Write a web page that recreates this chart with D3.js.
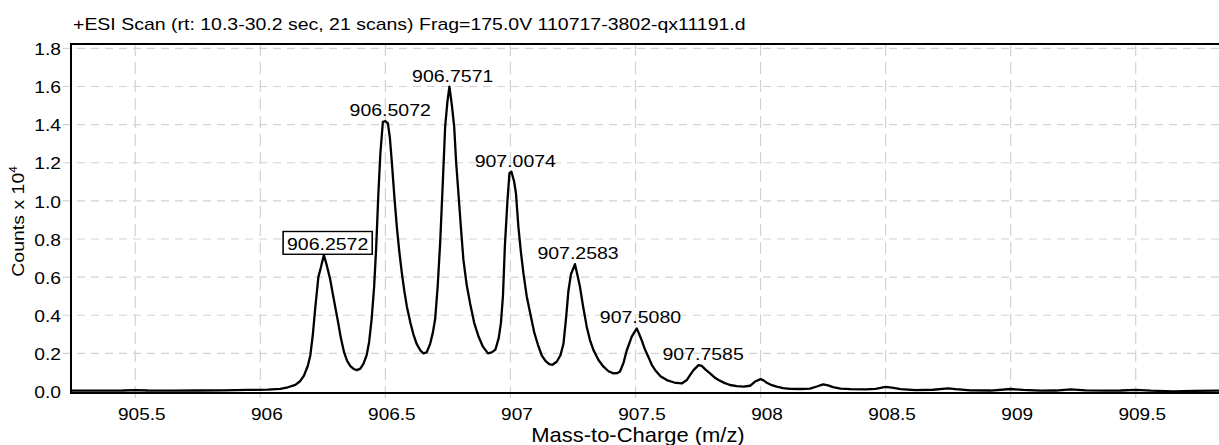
<!DOCTYPE html>
<html><head><meta charset="utf-8">
<script src="https://cdn.jsdelivr.net/npm/d3@7"></script>
<style>
html,body{margin:0;padding:0;background:#fff;}
svg{display:block;font-family:"Liberation Sans", Arial, Helvetica, sans-serif;}
</style></head><body>
<svg id="chart" width="1219" height="445"></svg>
<script>
// ---- data (counts in units of 10^4) ----
const mz = [905.243,905.35,905.45,905.5,905.55,905.65,905.75,905.85,905.95,906.03,906.08,906.11,906.14,906.16,906.175,906.19,906.2,906.21,906.219,906.232,906.242,906.254,906.266,906.279,906.29,906.3,906.312,906.322,906.335,906.347,906.36,906.373,906.386,906.4,906.412,906.425,906.435,906.445,906.455,906.463,906.472,906.48,906.49,906.5,906.51,906.518,906.526,906.536,906.546,906.556,906.566,906.576,906.586,906.6,906.612,906.625,906.64,906.652,906.665,906.679,906.69,906.699,906.709,906.719,906.729,906.739,906.748,906.756,906.766,906.775,906.783,906.792,906.802,906.812,906.825,906.839,906.855,906.872,906.89,906.91,906.925,906.94,906.953,906.962,906.97,906.978,906.988,906.996,907.004,907.015,907.022,907.032,907.042,907.052,907.065,907.079,907.095,907.11,907.125,907.14,907.155,907.168,907.185,907.2,907.212,907.222,907.232,907.242,907.258,907.268,907.278,907.29,907.305,907.318,907.332,907.352,907.372,907.392,907.412,907.428,907.438,907.452,907.465,907.485,907.505,907.515,907.525,907.538,907.552,907.565,907.579,907.6,907.625,907.655,907.685,907.705,907.72,907.732,907.752,907.765,907.78,907.798,907.815,907.832,907.855,907.878,907.905,907.932,907.958,907.978,908.0,908.012,908.025,908.045,908.065,908.09,908.118,908.16,908.198,908.225,908.25,908.27,908.29,908.32,908.36,908.42,908.46,908.5,908.525,908.56,908.62,908.69,908.75,908.78,908.84,908.92,909.0,909.05,909.12,909.18,909.24,909.3,909.38,909.44,909.5,909.56,909.65,909.73,909.833];
const counts = [0.004,0.004,0.005,0.007,0.005,0.004,0.005,0.006,0.008,0.01,0.014,0.022,0.035,0.055,0.085,0.135,0.19,0.3,0.43,0.6,0.65,0.716,0.66,0.59,0.51,0.44,0.355,0.28,0.205,0.16,0.133,0.118,0.112,0.12,0.145,0.19,0.26,0.38,0.55,0.75,1.04,1.25,1.415,1.418,1.407,1.33,1.2,1.02,0.86,0.73,0.62,0.525,0.445,0.36,0.3,0.25,0.215,0.2,0.205,0.25,0.31,0.38,0.55,0.78,1.08,1.39,1.52,1.599,1.5,1.39,1.2,1.04,0.86,0.69,0.56,0.46,0.36,0.29,0.235,0.2,0.205,0.22,0.28,0.36,0.5,0.77,1.0,1.145,1.153,1.1,1.04,0.86,0.73,0.62,0.5,0.41,0.31,0.245,0.19,0.16,0.143,0.14,0.156,0.19,0.25,0.38,0.53,0.615,0.668,0.61,0.549,0.45,0.34,0.27,0.217,0.165,0.13,0.106,0.095,0.097,0.105,0.15,0.215,0.288,0.331,0.3,0.268,0.22,0.18,0.14,0.112,0.08,0.06,0.047,0.042,0.06,0.09,0.112,0.138,0.134,0.115,0.095,0.075,0.06,0.045,0.034,0.028,0.025,0.03,0.052,0.065,0.058,0.046,0.033,0.025,0.018,0.014,0.013,0.015,0.026,0.037,0.032,0.023,0.015,0.012,0.011,0.014,0.024,0.02,0.012,0.007,0.009,0.016,0.012,0.006,0.005,0.013,0.008,0.004,0.005,0.011,0.006,0.004,0.005,0.008,0.004,0.001,0.003,0.004];

const peakMz = [906.2572, 906.5072, 906.7571, 907.0074, 907.2583, 907.5080, 907.7585];
const peakCounts = [0.716, 1.418, 1.599, 1.153, 0.668, 0.331, 0.138];
const peakLabels = ["906.2572","906.5072","906.7571","907.0074","907.2583","907.5080","907.7585"];
const boxedLabels = ["906.2572"];

const xTicks = [905.5, 906, 906.5, 907, 907.5, 908, 908.5, 909, 909.5];
const xTickLabels = ["905.5","906","906.5","907","907.5","908","908.5","909","909.5"];
const yTicks = [0, 0.2, 0.4, 0.6, 0.8, 1.0, 1.2, 1.4, 1.6, 1.8];
const yTickLabels = ["0.0","0.2","0.4","0.6","0.8","1.0","1.2","1.4","1.6","1.8"];

const titleText = "+ESI Scan (rt: 10.3-30.2 sec, 21 scans) Frag=175.0V 110717-3802-qx11191.d";
const xTitleText = "Mass-to-Charge (m/z)";
const yTitleText = "Counts x 10";
const yTitleSup = "4";

// ---- layout ----
const L = 71, R = 1219, T = 44, B = 393;
const SX = 1.12; // horizontal text stretch seen in the reference
const svg = d3.select("#chart");

const x = d3.scaleLinear().domain([905.243, 909.833]).range([L, R]);
const y = d3.scaleLinear().domain([-0.008, 1.823]).range([B, T]);

const gridColor = "#d2d2d2";

// grid
svg.append("g").selectAll("line").data(yTicks.filter(d => d > 0)).join("line")
  .attr("x1", L - 8).attr("x2", R)
  .attr("y1", d => y(d)).attr("y2", d => y(d))
  .attr("stroke", gridColor).attr("stroke-width", 1.2)
  .attr("stroke-dasharray", "8,6");
svg.append("g").selectAll("line").data(xTicks).join("line")
  .attr("x1", d => x(d)).attr("x2", d => x(d))
  .attr("y1", T).attr("y2", B + 8)
  .attr("stroke", gridColor).attr("stroke-width", 1.2)
  .attr("stroke-dasharray", "12,6");

// clip
svg.append("clipPath").attr("id", "plotclip").append("rect")
  .attr("x", L).attr("y", T).attr("width", R - L).attr("height", B - T);

// spectrum line
const pts = mz.map((m, i) => [m, counts[i]]);
svg.append("path")
  .attr("clip-path", "url(#plotclip)")
  .attr("d", d3.line().x(d => x(d[0])).y(d => y(d[1])).curve(d3.curveLinear)(pts))
  .attr("fill", "none").attr("stroke", "#000").attr("stroke-width", 2.3)
  .attr("stroke-linejoin", "round");

// frame
svg.append("line").attr("x1", L).attr("x2", R).attr("y1", T).attr("y2", T).attr("stroke", "#000").attr("stroke-width", 2);
svg.append("line").attr("x1", L).attr("x2", L).attr("y1", T - 1).attr("y2", B + 1).attr("stroke", "#000").attr("stroke-width", 2);
svg.append("line").attr("x1", L).attr("x2", R).attr("y1", B).attr("y2", B).attr("stroke", "#000").attr("stroke-width", 2);

// axes (labels only)
const xAxis = svg.append("g").attr("transform", `translate(0,${B})`)
  .call(d3.axisBottom(x).tickValues(xTicks).tickFormat((d, i) => xTickLabels[i]).tickSize(0));
xAxis.select(".domain").remove();
xAxis.selectAll("text")
  .attr("y", 27.5).attr("dy", null).attr("x", 6 / SX)
  .attr("transform", `scale(${SX},1)`)
  .attr("fill", "#000").attr("font-size", 17).attr("font-family", null);

const yAxis = svg.append("g").attr("transform", `translate(${L},0)`)
  .call(d3.axisLeft(y).tickValues(yTicks).tickFormat((d, i) => yTickLabels[i]).tickSize(0));
yAxis.select(".domain").remove();
yAxis.selectAll("text")
  .attr("x", -10 / SX).attr("dy", "0.36em")
  .attr("transform", `scale(${SX},1)`)
  .attr("fill", "#000").attr("font-size", 17.2).attr("font-family", null);

// title
svg.append("g").attr("transform", `translate(73,30) scale(${SX},1)`)
  .append("text").attr("font-size", 17.4).attr("fill", "#000").text(titleText);

// x title
svg.append("g").attr("transform", `translate(${(L + R) / 2 - 7},442) scale(${SX},1)`)
  .append("text").attr("text-anchor", "middle").attr("font-size", 19.6).attr("fill", "#000").text(xTitleText);

// y title
const yt = svg.append("g").attr("transform", `translate(24,${(T + B) / 2 + 3}) rotate(-90) scale(${SX},1)`)
  .append("text").attr("text-anchor", "middle").attr("font-size", 17.4).attr("fill", "#000");
yt.append("tspan").text(yTitleText);
yt.append("tspan").attr("font-size", 10.5).attr("dy", -7).text(yTitleSup);

// peak labels
peakMz.forEach((m, i) => {
  const g = svg.append("g").attr("transform", `translate(${x(m) + 3},${y(peakCounts[i]) - 5}) scale(${SX},1)`);
  const t = g.append("text").attr("text-anchor", "middle").attr("font-size", 17.4).attr("fill", "#000").text(peakLabels[i]);
  if (boxedLabels.includes(peakLabels[i])) {
    const bb = t.node().getBBox();
    g.insert("rect", "text")
      .attr("x", bb.x - 3.5).attr("y", bb.y - 2.5)
      .attr("width", bb.width + 7).attr("height", bb.height + 3)
      .attr("fill", "#fff").attr("stroke", "#000").attr("stroke-width", 1.4);
  }
});
</script>
</body></html>
